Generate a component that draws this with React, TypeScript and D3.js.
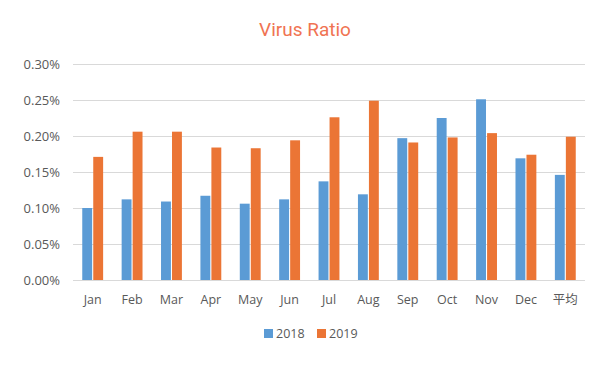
import React, { useEffect, useRef } from "react";
import * as d3 from "d3";

const categories = ["Jan", "Feb", "Mar", "Apr", "May", "Jun", "Jul", "Aug", "Sep", "Oct", "Nov", "Dec", "平均"];
const series2018 = [0.100, 0.112, 0.109, 0.117, 0.106, 0.112, 0.137, 0.119, 0.197, 0.225, 0.251, 0.169, 0.146];
const series2019 = [0.171, 0.206, 0.206, 0.184, 0.183, 0.194, 0.226, 0.249, 0.191, 0.198, 0.204, 0.174, 0.199];
const seriesNames = ["2018", "2019"];
const yTicks = [0, 0.05, 0.1, 0.15, 0.2, 0.25, 0.3];

const colors = ["#5B9BD5", "#EB7535"];
const font = "'Open Sans', 'Liberation Sans', sans-serif";

const App = () => {
  const svgRef = useRef<SVGSVGElement>(null);

  useEffect(() => {
    if (!svgRef.current) return;
    const width = 600;
    const height = 367;
    const svg = d3.select(svgRef.current);
    svg.selectAll("*").remove();

    const left = 73;
    const right = 585;
    const top = 64;
    const bottom = 280;

    const x = d3.scaleBand().domain(categories).range([left, right]).paddingInner(0.47).paddingOuter(0.235);
    const xs = d3.scaleBand().domain(seriesNames).range([0, x.bandwidth()]).paddingInner(0.1);
    const y = d3.scaleLinear().domain([0, 0.3]).range([bottom, top]);

    svg.attr("width", width).attr("height", height);

    // title
    svg
      .append("text")
      .attr("x", 305)
      .attr("y", 36)
      .attr("text-anchor", "middle")
      .attr("font-family", "Roboto, 'Open Sans', sans-serif")
      .attr("font-size", 19)
      .attr("fill", "#F07352")
      .text("Virus Ratio");

    // grid
    svg
      .append("g")
      .selectAll("line")
      .data(yTicks)
      .join("line")
      .attr("x1", left)
      .attr("x2", right)
      .attr("y1", (d) => Math.round(y(d)) + 0.5)
      .attr("y2", (d) => Math.round(y(d)) + 0.5)
      .attr("stroke", "#d9d9d9")
      .attr("stroke-width", 1);

    // y labels
    svg
      .append("g")
      .selectAll("text")
      .data(yTicks)
      .join("text")
      .attr("x", 60)
      .attr("y", (d) => y(d))
      .attr("dy", "0.35em")
      .attr("text-anchor", "end")
      .attr("font-family", font)
      .attr("font-size", 13)
      .attr("fill", "#595959")
      .text((d) => d3.format(".2f")(d) + "%");

    // bars
    const allSeries = [series2018, series2019];
    allSeries.forEach((values, si) => {
      svg
        .append("g")
        .selectAll("rect")
        .data(values)
        .join("rect")
        .attr("x", (_, i) => (x(categories[i]) as number) + (xs(seriesNames[si]) as number))
        .attr("y", (d) => y(d))
        .attr("width", xs.bandwidth())
        .attr("height", (d) => bottom - y(d))
        .attr("fill", colors[si]);
    });

    // x labels
    svg
      .append("g")
      .selectAll("text")
      .data(categories)
      .join("text")
      .attr("x", (d) => (x(d) as number) + x.bandwidth() / 2)
      .attr("y", 300)
      .attr("dy", "0.35em")
      .attr("text-anchor", "middle")
      .attr("font-family", (d) => (d === "平均" ? "'Noto Sans CJK SC', sans-serif" : font))
      .attr("font-size", 12.5)
      .attr("fill", "#595959")
      .text((d) => d);

    // legend
    const legendX = [264, 317];
    const lg = svg.append("g");
    seriesNames.forEach((name, i) => {
      lg.append("rect")
        .attr("x", legendX[i])
        .attr("y", 329)
        .attr("width", 9)
        .attr("height", 9)
        .attr("fill", colors[i]);
      lg.append("text")
        .attr("x", legendX[i] + 12)
        .attr("y", 333.5)
        .attr("dy", "0.35em")
        .attr("font-family", font)
        .attr("font-size", 12.5)
        .attr("fill", "#595959")
        .text(name);
    });
  }, []);

  return (
    <div style={{ position: "absolute", left: 0, top: 0, width: 600, height: 367, background: "#fff" }}>
      <svg ref={svgRef} style={{ display: "block" }} />
    </div>
  );
};

export default App;
